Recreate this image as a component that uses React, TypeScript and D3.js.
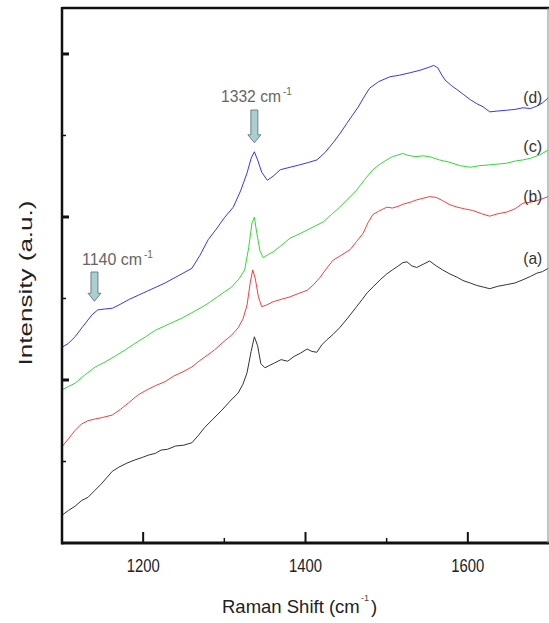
import React from "react";
import * as d3 from "d3";

// Raman spectra, wavenumber (cm-1) vs intensity (a.u.)
const wavA = [1100, 1108, 1116, 1124, 1132, 1140, 1148, 1155, 1162, 1170, 1180, 1190, 1199, 1207, 1215, 1222, 1230, 1240, 1250, 1260, 1268, 1276, 1286, 1297, 1307, 1317, 1323, 1328, 1333, 1337, 1341, 1345, 1350, 1356, 1362, 1370, 1378, 1386, 1394, 1402, 1408, 1414, 1420, 1426, 1434, 1442, 1452, 1463, 1470, 1476, 1484, 1492, 1500, 1507, 1513, 1520, 1525, 1531, 1537, 1545, 1553, 1561, 1569, 1578, 1587, 1594, 1603, 1611, 1619, 1627, 1637, 1648, 1658, 1668, 1677, 1685, 1692, 1699];
const intA = [0.34, 0.40, 0.45, 0.52, 0.56, 0.64, 0.72, 0.80, 0.88, 0.93, 0.98, 1.02, 1.05, 1.08, 1.10, 1.14, 1.15, 1.19, 1.20, 1.23, 1.32, 1.42, 1.52, 1.63, 1.74, 1.84, 1.95, 2.09, 2.35, 2.53, 2.42, 2.20, 2.15, 2.18, 2.21, 2.25, 2.23, 2.29, 2.33, 2.38, 2.35, 2.34, 2.43, 2.49, 2.56, 2.64, 2.76, 2.90, 2.99, 3.07, 3.15, 3.23, 3.30, 3.35, 3.39, 3.44, 3.45, 3.40, 3.38, 3.42, 3.46, 3.40, 3.35, 3.30, 3.26, 3.22, 3.19, 3.16, 3.14, 3.12, 3.15, 3.17, 3.19, 3.23, 3.27, 3.31, 3.33, 3.37];

const wavB = [1100, 1108, 1116, 1124, 1132, 1140, 1150, 1162, 1172, 1182, 1194, 1205, 1215, 1227, 1238, 1249, 1260, 1270, 1280, 1288, 1298, 1309, 1317, 1323, 1328, 1332, 1335, 1338, 1342, 1346, 1352, 1360, 1370, 1381, 1391, 1402, 1410, 1418, 1426, 1434, 1444, 1455, 1463, 1471, 1477, 1483, 1490, 1500, 1507, 1514, 1521, 1529, 1537, 1545, 1553, 1561, 1569, 1578, 1587, 1596, 1606, 1617, 1627, 1637, 1648, 1658, 1668, 1677, 1688, 1699];
const intB = [1.18, 1.28, 1.38, 1.46, 1.50, 1.52, 1.54, 1.57, 1.64, 1.72, 1.82, 1.88, 1.93, 1.98, 2.05, 2.10, 2.16, 2.24, 2.31, 2.37, 2.46, 2.55, 2.64, 2.75, 2.92, 3.20, 3.35, 3.25, 3.02, 2.90, 2.92, 2.96, 2.99, 3.02, 3.06, 3.10, 3.17, 3.26, 3.37, 3.47, 3.53, 3.60, 3.70, 3.80, 3.93, 4.03, 4.07, 4.12, 4.11, 4.13, 4.16, 4.18, 4.21, 4.23, 4.25, 4.24, 4.20, 4.15, 4.12, 4.10, 4.08, 4.04, 4.01, 4.04, 4.06, 4.10, 4.17, 4.18, 4.21, 4.25];

const wavC = [1100, 1108, 1116, 1128, 1141, 1153, 1165, 1178, 1190, 1203, 1215, 1226, 1237, 1248, 1259, 1270, 1280, 1290, 1300, 1309, 1318, 1325, 1330, 1334, 1337, 1340, 1344, 1348, 1354, 1360, 1370, 1381, 1392, 1402, 1412, 1422, 1432, 1442, 1452, 1463, 1473, 1483, 1492, 1500, 1507, 1514, 1520, 1525, 1535, 1545, 1553, 1565, 1578, 1590, 1603, 1615, 1627, 1638, 1648, 1660, 1668, 1677, 1688, 1699];
const intC = [1.88, 1.92, 1.96, 2.06, 2.16, 2.22, 2.29, 2.37, 2.45, 2.53, 2.61, 2.66, 2.71, 2.76, 2.82, 2.88, 2.94, 3.01, 3.08, 3.14, 3.24, 3.35, 3.62, 3.92, 4.00, 3.80, 3.58, 3.50, 3.54, 3.57, 3.65, 3.74, 3.79, 3.84, 3.89, 3.94, 4.03, 4.12, 4.22, 4.33, 4.46, 4.58, 4.65, 4.70, 4.74, 4.76, 4.78, 4.76, 4.74, 4.75, 4.74, 4.70, 4.67, 4.63, 4.61, 4.63, 4.64, 4.65, 4.66, 4.69, 4.70, 4.72, 4.76, 4.82];

const wavD = [1100, 1108, 1116, 1126, 1137, 1144, 1152, 1162, 1172, 1183, 1194, 1205, 1216, 1227, 1238, 1249, 1260, 1270, 1280, 1290, 1300, 1311, 1320, 1328, 1333, 1337, 1341, 1346, 1353, 1360, 1369, 1381, 1393, 1404, 1414, 1424, 1434, 1443, 1451, 1458, 1465, 1472, 1479, 1490, 1504, 1516, 1529, 1541, 1553, 1558, 1563, 1568, 1572, 1580, 1587, 1595, 1603, 1611, 1619, 1627, 1637, 1648, 1658, 1668, 1677, 1685, 1692, 1699];
const intD = [2.40, 2.45, 2.53, 2.66, 2.80, 2.86, 2.87, 2.88, 2.93, 2.99, 3.04, 3.09, 3.14, 3.19, 3.25, 3.31, 3.37, 3.53, 3.72, 3.85, 3.99, 4.12, 4.32, 4.54, 4.72, 4.80, 4.70, 4.55, 4.45, 4.50, 4.58, 4.61, 4.64, 4.67, 4.70, 4.79, 4.91, 5.03, 5.15, 5.25, 5.35, 5.47, 5.58, 5.66, 5.72, 5.74, 5.77, 5.80, 5.84, 5.86, 5.83, 5.74, 5.68, 5.61, 5.56, 5.50, 5.44, 5.39, 5.35, 5.29, 5.30, 5.31, 5.32, 5.34, 5.33, 5.36, 5.40, 5.46];

const seriesNames = ["(a)", "(b)", "(c)", "(d)"];
const seriesColors = ["#333333", "#ff3b3b", "#2fdc2f", "#3535ff"];
const labelAt = [3.42, 4.18, 4.8, 5.4];

const xMajorTicks = [1200, 1400, 1600];
const xMinorTicks = [1300, 1500];
const yMajorTicks = [2, 4, 6];
const yMinorTicks = [1, 3, 5];

const W = 549;
const H = 623;
const plot = { left: 62, right: 549, top: 8, bottom: 543 };

const x = d3.scaleLinear().domain([1100, 1700]).range([plot.left, plot.right]);
const y = d3.scaleLinear().domain([0, 6.564]).range([plot.bottom, plot.top]);

const line = d3
  .line<[number, number]>()
  .x((d) => x(d[0]))
  .y((d) => y(d[1]));

const zip = (a: number[], b: number[]) => a.map((v, i) => [v, b[i]] as [number, number]);

const series = [zip(wavA, intA), zip(wavB, intB), zip(wavC, intC), zip(wavD, intD)];

const sans = "'Liberation Sans', Arial, sans-serif";

// down arrow, tip at (cx, tipY)
const arrowPath = (cx: number, topY: number, tipY: number) => {
  const headY = tipY - 8;
  return `M${cx - 3.5},${topY} L${cx + 3.5},${topY} L${cx + 3.5},${headY} L${cx + 6.5},${headY} L${cx},${tipY} L${cx - 6.5},${headY} L${cx - 3.5},${headY} Z`;
};

export default function App() {
  const peakX = x(1337);
  const peakY = y(4.8);
  const shX = x(1140);
  const shY = y(2.88);

  return (
    <svg
      width={W}
      height={H}
      style={{ position: "absolute", left: 0, top: 0, background: "#fff" }}
    >
      {/* spectra */}
      {series.map((s, i) => (
        <path key={i} d={line(s) || ""} fill="none" stroke={seriesColors[i]} strokeWidth={1} />
      ))}

      {/* frame */}
      <line x1={plot.left} x2={W} y1={plot.top} y2={plot.top} stroke="#111" strokeWidth={2.5} />
      <line x1={plot.left} x2={W} y1={plot.bottom} y2={plot.bottom} stroke="#111" strokeWidth={3} />
      <line x1={plot.left} x2={plot.left} y1={plot.top - 1} y2={plot.bottom + 1.5} stroke="#111" strokeWidth={2.5} />
      <line x1={548} x2={548} y1={plot.top} y2={plot.bottom} stroke="#888" strokeWidth={1} />

      {/* x ticks */}
      {xMajorTicks.map((t) => (
        <g key={t}>
          <line x1={x(t)} x2={x(t)} y1={plot.bottom} y2={plot.bottom - 11} stroke="#111" strokeWidth={2} />
          <text x={x(t)} y={572} textAnchor="middle" fontFamily={sans} fontSize={18} fill="#222" textLength={33} lengthAdjust="spacingAndGlyphs">
            {t}
          </text>
        </g>
      ))}
      {xMinorTicks.map((t) => (
        <line key={t} x1={x(t)} x2={x(t)} y1={plot.bottom} y2={plot.bottom - 5} stroke="#111" strokeWidth={1.5} />
      ))}

      {/* y ticks */}
      {yMajorTicks.map((t) => (
        <line key={t} x1={plot.left} x2={plot.left + 7} y1={y(t)} y2={y(t)} stroke="#111" strokeWidth={3} />
      ))}
      {yMinorTicks.map((t) => (
        <line key={t} x1={plot.left} x2={plot.left + 4} y1={y(t)} y2={y(t)} stroke="#111" strokeWidth={1.5} />
      ))}

      {/* axis titles */}
      <text x={222} y={613} fontFamily={sans} fontSize={18.5} fill="#222">
        Raman Shift (cm
      </text>
      <text x={361} y={601} fontFamily={sans} fontSize={9} fill="#444">
        -1
      </text>
      <text x={371} y={613} fontFamily={sans} fontSize={18.5} fill="#222">
        )
      </text>
      <text
        transform={`translate(32,283) rotate(-90)`}
        textAnchor="middle"
        fontFamily={sans}
        fontSize={19}
        fill="#222"
        textLength={165}
        lengthAdjust="spacingAndGlyphs"
      >
        Intensity (a.u.)
      </text>

      {/* series labels */}
      {seriesNames.map((n, i) => (
        <text key={n} x={x(1680)} y={y(labelAt[i])} textAnchor="middle" fontFamily={sans} fontSize={17} fill="#333" textLength={19} lengthAdjust="spacingAndGlyphs">
          {n}
        </text>
      ))}

      {/* peak annotations */}
      <text x={221} y={102} fontFamily={sans} fontSize={16} fill="#666" textLength={60} lengthAdjust="spacingAndGlyphs">
        1332 cm
      </text>
      <text x={283} y={95} fontFamily={sans} fontSize={10} fill="#666">
        -1
      </text>
      <path d={arrowPath(peakX, 110, peakY - 9)} fill="#a9cfd0" stroke="#5a6a6c" strokeWidth={0.8} />

      <text x={82} y={265} fontFamily={sans} fontSize={16} fill="#666" textLength={60} lengthAdjust="spacingAndGlyphs">
        1140 cm
      </text>
      <text x={144} y={258} fontFamily={sans} fontSize={10} fill="#666">
        -1
      </text>
      <path d={arrowPath(shX, 272, shY - 7)} fill="#a9cfd0" stroke="#5a6a6c" strokeWidth={0.8} />
    </svg>
  );
}
